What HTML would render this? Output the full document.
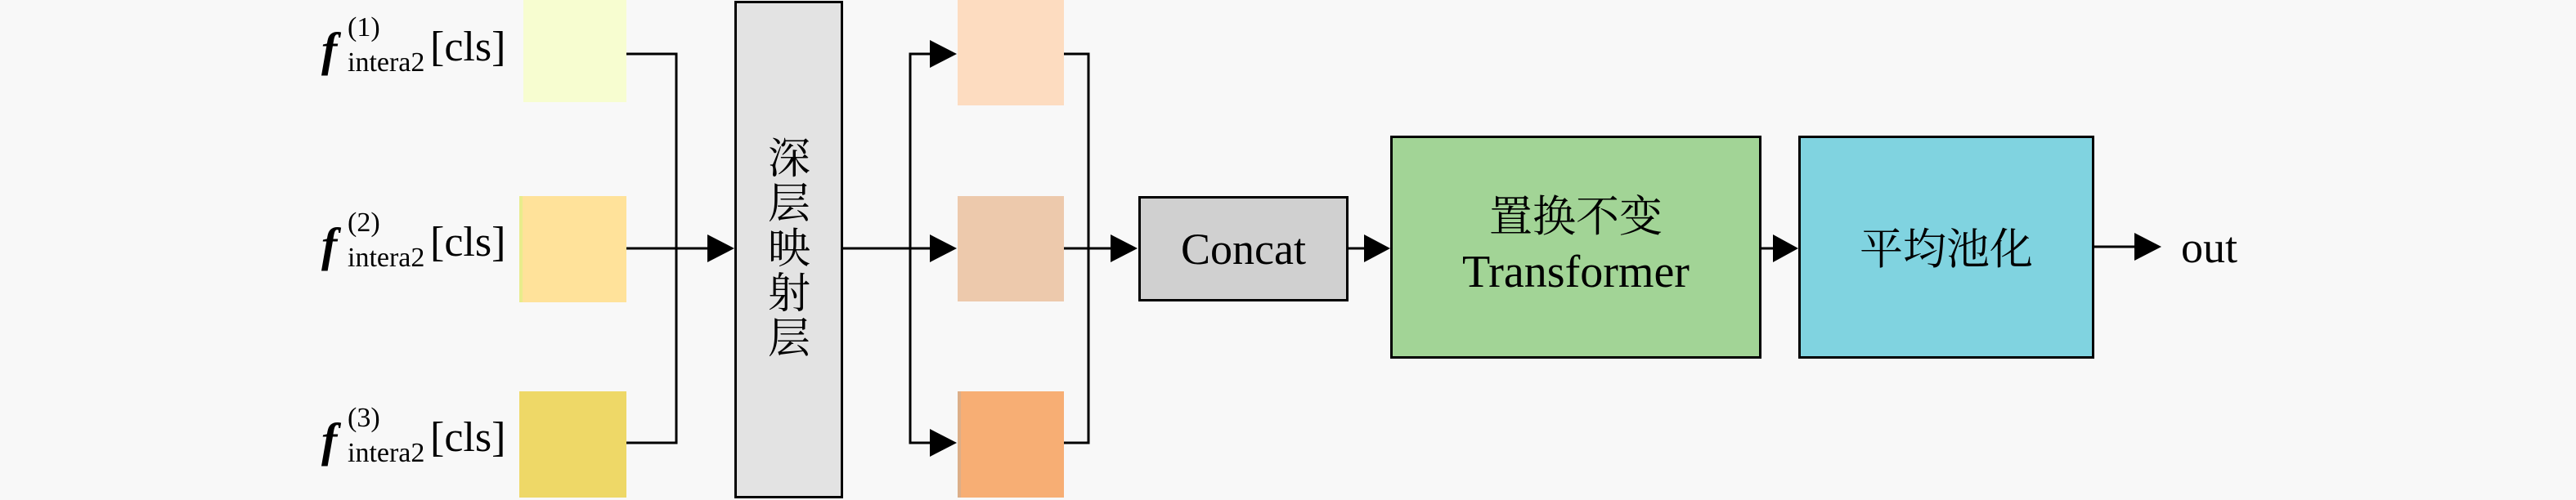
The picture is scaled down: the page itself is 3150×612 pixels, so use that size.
<!DOCTYPE html>
<html><head><meta charset="utf-8"><style>
html,body{margin:0;padding:0;}
body{width:3150px;height:612px;background:#f8f8f8;position:relative;overflow:hidden;font-family:"Liberation Serif","Noto Serif CJK SC",serif;color:#000;}
.a{position:absolute;}
.box{position:absolute;box-sizing:border-box;}
.lbl{position:absolute;white-space:nowrap;line-height:1;}
.f{position:absolute;font-weight:bold;font-style:italic;font-size:58px;}
.sup{position:absolute;font-size:34px;}
.sub{position:absolute;font-size:34px;}
.cls{position:absolute;font-size:52px;}
.cjk{font-family:"Liberation Serif","Noto Serif CJK SC",serif;}
</style></head><body>

<div class="box" style="left:640px;top:0;width:126px;height:125px;background:#f7fdd0;"></div>
<div class="box" style="left:635px;top:240px;width:131px;height:130px;background:#ffe29a;border-left:4px solid #e8ec8c;"></div>
<div class="box" style="left:635px;top:479px;width:131px;height:130px;background:#eed867;"></div>

<div class="lbl" style="left:393px;top:20px;width:230px;height:80px;">
 <span class="f" style="left:0;top:12px;">f</span>
 <span class="sup" style="left:32px;top:-3px;">(1)</span>
 <span class="sub" style="left:32px;top:40px;">intera2</span>
 <span class="cls" style="left:133px;top:12px;">[cls]</span>
</div>
<div class="lbl" style="left:393px;top:259px;width:230px;height:80px;">
 <span class="f" style="left:0;top:12px;">f</span>
 <span class="sup" style="left:32px;top:-3px;">(2)</span>
 <span class="sub" style="left:32px;top:40px;">intera2</span>
 <span class="cls" style="left:133px;top:12px;">[cls]</span>
</div>
<div class="lbl" style="left:393px;top:498px;width:230px;height:80px;">
 <span class="f" style="left:0;top:12px;">f</span>
 <span class="sup" style="left:32px;top:-3px;">(3)</span>
 <span class="sub" style="left:32px;top:40px;">intera2</span>
 <span class="cls" style="left:133px;top:12px;">[cls]</span>
</div>

<div class="box" style="left:898px;top:1px;width:133px;height:609px;background:#e3e3e3;border:3px solid #000;"></div>
<div class="lbl cjk" style="left:938px;top:168px;width:54px;font-size:52px;line-height:55px;text-align:center;">深<br>层<br>映<br>射<br>层</div>

<div class="box" style="left:1171px;top:0;width:130px;height:129px;background:#fddcc0;"></div>
<div class="box" style="left:1171px;top:240px;width:130px;height:129px;background:#edc9ac;"></div>
<div class="box" style="left:1171px;top:479px;width:130px;height:130px;background:#f7ae74;border-left:4px solid #dcae88;"></div>

<div class="box" style="left:1392px;top:240px;width:257px;height:129px;background:#d0d0d0;border:3px solid #000;"></div>
<div class="lbl" style="left:1392px;top:240px;width:257px;height:129px;font-size:54px;display:flex;align-items:center;justify-content:center;">Concat</div>

<div class="box" style="left:1700px;top:166px;width:454px;height:273px;background:#a2d496;border:3px solid #000;"></div>
<div class="lbl" style="left:1700px;top:240px;width:454px;text-align:center;font-size:53px;">置换不变</div>
<div class="lbl" style="left:1700px;top:305px;width:454px;text-align:center;font-size:56px;">Transformer</div>

<div class="box" style="left:2199px;top:166px;width:362px;height:273px;background:#80d3e0;border:3px solid #000;"></div>
<div class="lbl" style="left:2199px;top:280px;width:362px;text-align:center;font-size:53px;">平均池化</div>

<div class="lbl" style="left:2667px;top:276px;font-size:54px;">out</div>

<svg class="a" style="left:0;top:0;" width="3150" height="612" viewBox="0 0 3150 612">
 <g stroke="#000" stroke-width="3" fill="none">
  <polyline points="766,66 827,66 827,542 766,542"/>
  <line x1="766" y1="304" x2="870" y2="304"/>
  <line x1="1031" y1="304" x2="1140" y2="304"/>
  <polyline points="1140,66 1113,66 1113,542 1140,542"/>
  <polyline points="1301,66 1331,66 1331,542 1301,542"/>
  <line x1="1301" y1="304" x2="1360" y2="304"/>
  <line x1="1649" y1="304" x2="1672" y2="304"/>
  <line x1="2154" y1="304" x2="2172" y2="304"/>
  <line x1="2561" y1="302" x2="2615" y2="302"/>
 </g>
 <g fill="#000">
  <polygon points="865,287 898,304 865,321"/>
  <polygon points="1137,49 1170,66 1137,83"/>
  <polygon points="1137,287 1170,304 1137,321"/>
  <polygon points="1137,525 1170,542 1137,559"/>
  <polygon points="1358,287 1391,304 1358,321"/>
  <polygon points="1668,287 1700,304 1668,321"/>
  <polygon points="2168,287 2199,304 2168,321"/>
  <polygon points="2610,285 2643,302 2610,319"/>
 </g>
</svg>
</body></html>
